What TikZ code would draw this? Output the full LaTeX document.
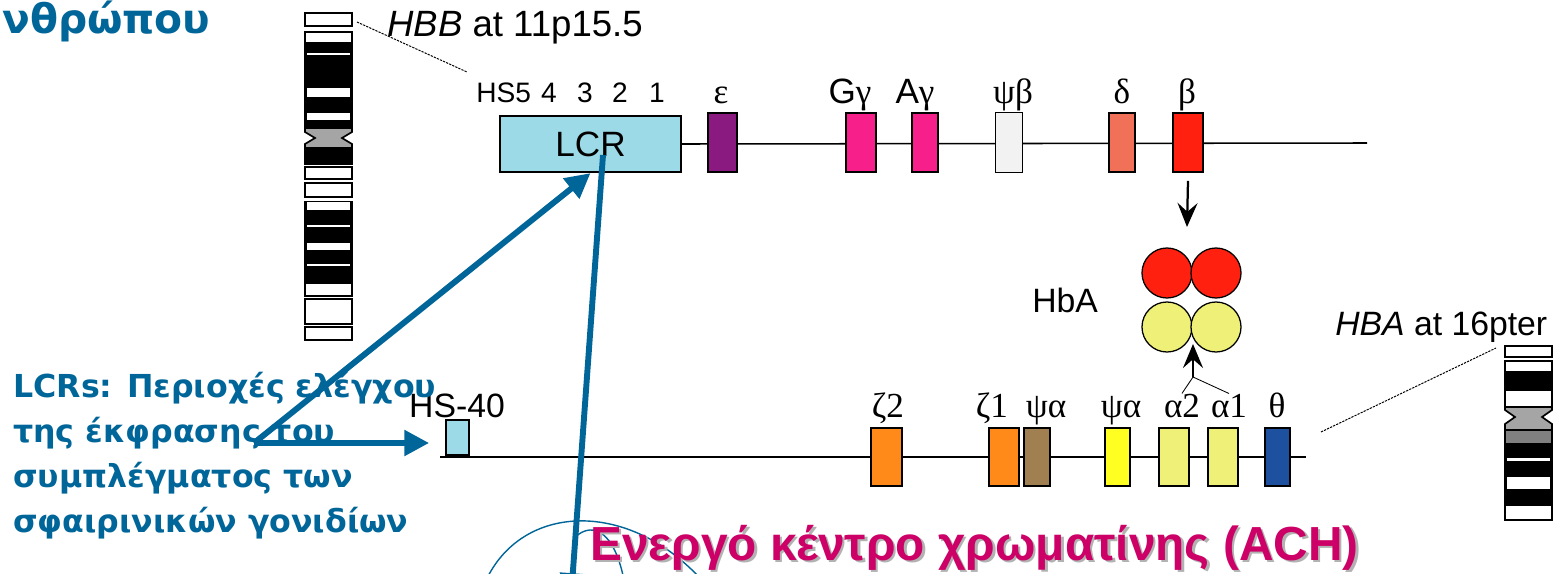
\documentclass[tikz,border=0pt]{standalone}
\usepackage{fontspec}
\setmainfont{Liberation Sans}
\newfontfamily\serifgr{Liberation Serif}
\newfontfamily\titlefont{DejaVu Sans}
\usetikzlibrary{arrows.meta}

\definecolor{slideblue}{RGB}{0,102,153}
\definecolor{achpink}{RGB}{204,0,102}
\definecolor{lcrcol}{RGB}{155,218,230}
\definecolor{epscol}{RGB}{139,26,128}
\definecolor{gamcol}{RGB}{247,32,138}
\definecolor{psibcol}{RGB}{242,242,242}
\definecolor{delcol}{RGB}{240,112,88}
\definecolor{betcol}{RGB}{255,32,16}
\definecolor{zetcol}{RGB}{255,138,26}
\definecolor{psiacol}{RGB}{160,128,80}
\definecolor{psiycol}{RGB}{255,255,34}
\definecolor{alpcol}{RGB}{238,240,120}
\definecolor{thecol}{RGB}{30,80,160}
\definecolor{centcol}{RGB}{165,165,165}

\begin{document}
\begin{tikzpicture}[x=0.025cm, y=-0.025cm,
    gene/.style={draw, line width=1.6pt, minimum height=1.46cm, inner sep=0pt},
    glabel/.style={font=\serifgr\fontsize{25}{25}\selectfont, anchor=base, inner sep=0pt},
    slabel/.style={font=\fontsize{24}{24}\selectfont, anchor=base, inner sep=0pt},
    chain/.style={line width=1.1pt},
    band/.style={draw, line width=1.2pt},
    hb/.style={circle, draw, line width=0.9pt, minimum size=1.25cm, inner sep=0pt},
    bluearrow/.style={slideblue, line width=4.2pt, -{Triangle[length=0.62cm, width=0.62cm]}},
    blackarrow/.style={line width=1.6pt, -{Stealth[length=0.6cm, width=0.5cm, inset=0.22cm]}},
    zoomline/.style={dash pattern=on 1.6pt off 0.8pt, line width=0.7pt},
    note/.style={slideblue, font=\titlefont\bfseries\fontsize{22.5}{27}\selectfont, anchor=base west, inner sep=0pt},
    achtext/.style={font=\bfseries\fontsize{34}{34}\selectfont, anchor=base west, inner sep=0pt}]

\fill[white] (0,0) rectangle (1560,573);
\clip (0,0) rectangle (1560,573);

\node[slideblue, font=\titlefont\bfseries\fontsize{29}{29}\selectfont, anchor=base west, inner sep=0pt] (title) at (2,33) {νθρώπου};

% chromosome 11
\foreach \ya/\yb/\col in {13/26/white, 32/43/white, 43/128/black, 148/164/black, 167/179/white,
    183/197/white, 202/281/black, 283/296/white, 299/324/white, 327/340/white}
  \filldraw[band, fill=\col] (305,\ya) rectangle (352,\yb);
\foreach \ya/\yb in {53/55, 88/97, 113/120, 202/210, 225/227, 243/250, 264/266}
  \fill[white] (307,\ya) rectangle (350,\yb);
\filldraw[band, fill=centcol] (305,128) -- (352,128) -- (352,132) -- (342,138) -- (352,144) -- (352,148)
  -- (305,148) -- (305,144) -- (315,138) -- (305,132) -- cycle;

% chromosome 16
\foreach \ya/\yb/\col in {346/357/white, 361/372/white, 372/390/black, 390/407/white, 446/505/black, 505/520/white}
  \filldraw[band, fill=\col] (1505,\ya) rectangle (1552,\yb);
\foreach \ya/\yb in {458/461, 477/489}
  \fill[white] (1507,\ya) rectangle (1550,\yb);
\filldraw[band, fill=centcol] (1505,407) -- (1552,407) -- (1552,410) -- (1542,417) -- (1552,424) -- (1552,430)
  -- (1505,430) -- (1505,424) -- (1515,417) -- (1505,410) -- cycle;
\filldraw[band, fill=gray] (1505,430) rectangle (1552,444);

% beta-globin cluster
\node[slabel, anchor=base west, font=\fontsize{26}{26}\selectfont] (hbbname) at (387,36) {\textit{HBB} at 11p15.5};
\coordinate (hbbtop) at (357,22);
\coordinate (hbbzoom) at (467,72);
\draw[zoomline] (hbbtop) -- (hbbzoom);

\node[slabel, anchor=base west, font=\fontsize{20}{20}\selectfont] (hs5) at (476,102) {HS5};
\foreach \d/\x in {4/549, 3/585, 2/620, 1/657}
  \node[slabel, font=\fontsize{20}{20}\selectfont] (hs\d) at (\x,102) {\d};

\node[gene, fill=lcrcol, minimum width=4.52cm, minimum height=1.4cm, font=\fontsize{25}{25}\selectfont] (lcr) at (590.5,144) {LCR};
\coordinate (hbbend) at (1367,143);
\draw[chain] (lcr.east) -- (hbbend);

\foreach \name/\x/\w/\col in {eps/722.5/29/epscol, ggam/861/30/gamcol, agam/925/26/gamcol,
    psib/1009/24/psibcol, delta/1122/26/delcol, beta/1188/30/betcol}
  \node[gene, fill=\col, minimum width=\w*0.025cm] (\name) at (\x,142.5) {};
\draw[line width=0.6pt, fill=psibcol] (psib.south west) rectangle (psib.north east);

\node[glabel] (epslab) at (721,103) {ε};
\node[glabel] (ggamlab) at (850,103) {{\rmfamily G}γ};
\node[glabel] (agamlab) at (915,103) {{\rmfamily A}γ};
\node[glabel] (psiblab) at (1013,103) {ψβ};
\node[glabel] (deltalab) at (1122,103) {δ};
\node[glabel] (betalab) at (1187,103) {β};

% haemoglobin A tetramer
\node[hb, fill=betcol] (hbb1) at (1167,273) {};
\node[hb, fill=betcol] (hbb2) at (1216,273) {};
\node[hb, fill=alpcol] (hba1) at (1167,327) {};
\node[hb, fill=alpcol] (hba2) at (1216,327) {};
\node[slabel, anchor=base west] (hbaname) at (1032,312) {HbA};

\coordinate (downtip) at (1187,227);
\draw[blackarrow] (beta.south) ++(0,8) -- (downtip);

% alpha-globin cluster
\node[slabel, anchor=base west] (hbaloc) at (1335,335) {\textit{HBA} at 16pter};
\coordinate (hbazoom) at (1321,432);
\coordinate (hbatop) at (1496,348);
\draw[zoomline] (hbazoom) -- (hbatop);

\coordinate (hbastart) at (440,457);
\coordinate (hbaend) at (1306,457);
\draw[chain] (hbastart) -- (hbaend);

\node[gene, fill=lcrcol, minimum width=0.58cm, minimum height=0.88cm, line width=1.1pt] (hs40) at (457.5,437.5) {};
\node[slabel] (hs40lab) at (457,417) {HS-40};

\foreach \name/\x/\w/\col in {zeta2/886.5/31/zetcol, zeta1/1004/30/zetcol, psia1/1037/26/psiacol,
    psia2/1117.5/25/psiycol, alpha2/1174/30/alpcol, alpha1/1223/30/alpcol, theta/1277.5/25/thecol}
  \node[gene, fill=\col, minimum width=\w*0.025cm] (\name) at (\x,457) {};

\node[glabel] (zeta2lab) at (888,417) {ζ2};
\node[glabel] (zeta1lab) at (992,417) {ζ1};
\node[glabel] (psia1lab) at (1046,417) {ψα};
\node[glabel] (psia2lab) at (1121,417) {ψα};
\node[glabel] (alpha2lab) at (1182,417) {α2};
\node[glabel] (alpha1lab) at (1229,417) {α1};
\node[glabel] (thetalab) at (1277,417) {θ};

\coordinate (fork) at (1193,377);
\coordinate (uptip) at (1193,344);
\draw[line width=0.6pt] (alpha2lab.north) -- (fork) -- (alpha1lab.north);
\draw[blackarrow] (fork) -- (uptip);

% notes
\foreach \txt [count=\i] in {{LCRs: Περιοχές ελέγχου}, {της έκφρασης του}, {συμπλέγματος των}, {σφαιρινικών γονιδίων}}
  \node[note] (note\i) at (13,352+45*\i) {\txt};

\coordinate (notestart) at (254,443);
\coordinate (lcrmark) at (603,155);
\coordinate (achend) at (571,598);
\draw[bluearrow] (notestart) -- (lcr.south);
\draw[bluearrow, shorten >=0.4cm] (notestart) -- (notestart -| hs40.west);
\draw[bluearrow] (lcrmark) -- (achend);

% chromatin loops
\draw[slideblue, line width=1pt] (482,590) .. controls (515,500) and (635,495) .. (712,592);
\draw[slideblue, line width=1pt] (574,538) .. controls (595,518) and (618,535) .. (626,592);

\node[achtext, text=black!30] (achshadow) at (592.5,562.5) {Ενεργό κέντρο χρωματίνης (ACH)};
\node[achtext, text=achpink] (ach) at (590,560) {Ενεργό κέντρο χρωματίνης (ACH)};

\end{tikzpicture}
\end{document}
